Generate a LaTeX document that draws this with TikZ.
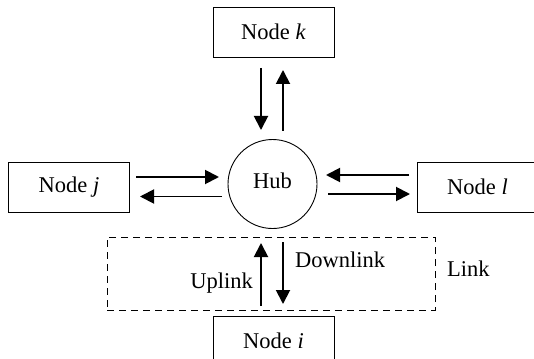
\documentclass[tikz,border=0pt]{standalone}
\usepackage{fontspec}
\setmainfont{Liberation Serif}
\usetikzlibrary{arrows.meta}
\tikzset{
  nodebox/.style={draw, line width=0.9pt, minimum width=121pt, minimum height=50pt, inner sep=0pt, font=\fontsize{22.5}{26}\selectfont},
  hubnode/.style={draw, circle, line width=0.9pt, minimum size=89pt, inner sep=0pt},
  flow/.style={line width=1.9pt, -{Triangle[length=14pt,width=14pt]}},
  lbl/.style={font=\fontsize{22.5}{26}\selectfont, inner sep=0pt},
  linkbox/.style={draw, line width=0.9pt, dash pattern=on 7pt off 5pt}
}
\begin{document}
\begin{tikzpicture}[x=1pt,y=-1pt]
\useasboundingbox (0,0) rectangle (534,358);
\node[nodebox] (k) at (273.5,32) {Node \textit{k}};
\node[nodebox] (j) at (69,187) {Node \textit{j}};
\node[nodebox] (l) at (477.5,187) {Node \textit{l}};
\node[nodebox] (i) at (273.5,341) {Node \textit{i}};
\node[hubnode] (hub) at (272.5,184) {};
\node[lbl] (hubtxt) at (272.5,181) {Hub};
\node[linkbox, minimum width=328pt, minimum height=73pt, inner sep=0pt] (link) at (271,273.5) {};
% top arrows
\coordinate (kd1) at (261,68);  \coordinate (kd2) at (261,130);
\coordinate (ku1) at (283,131); \coordinate (ku2) at (283,70);
\draw[flow] (kd1) -- (kd2);
\draw[flow] (ku1) -- (ku2);
% left arrows
\coordinate (jr1) at (136,177); \coordinate (jr2) at (219,177);
\coordinate (jl1) at (222,196.5); \coordinate (jl2) at (140,196.5);
\draw[flow] (jr1) -- (jr2);
\draw[flow] (jl1) -- (jl2);
% right arrows
\coordinate (ll1) at (409,175); \coordinate (ll2) at (326,175);
\coordinate (lr1) at (328,194); \coordinate (lr2) at (410,194);
\draw[flow] (ll1) -- (ll2);
\draw[flow] (lr1) -- (lr2);
% bottom arrows
\coordinate (iu1) at (261,306); \coordinate (iu2) at (261,243);
\coordinate (id1) at (283,242); \coordinate (id2) at (283,304);
\draw[flow] (iu1) -- (iu2);
\draw[flow] (id1) -- (id2);
\node[lbl, anchor=west] (down) at (295,260) {Downlink};
\node[lbl, anchor=east] (up) at (253,283) {Uplink};
\node[lbl, anchor=west] (linktxt) at (447,269) {Link};
\end{tikzpicture}
\end{document}
